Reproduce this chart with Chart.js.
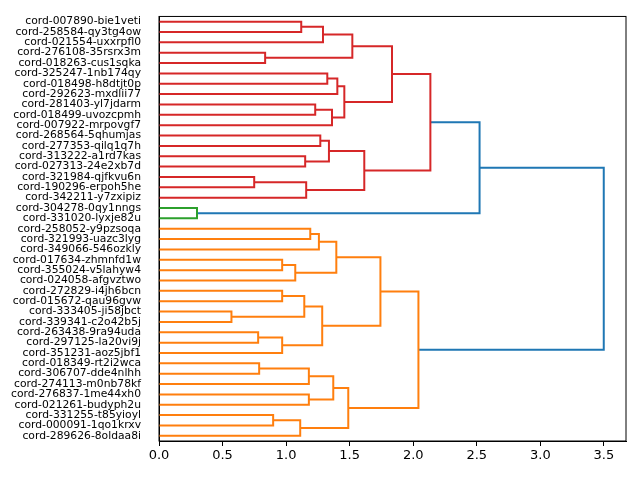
<!DOCTYPE html>
<html lang="en">
<head>
  <meta charset="UTF-8">
  <title>Dendrogram</title>
  <script src="https://cdn.jsdelivr.net/npm/chart.js"></script>
  <style>
    * { box-sizing: border-box; margin: 0; padding: 0; }
    body { background: #fff; }
    .wrap { width: 640px; height: 480px; position: relative; }
  </style>
</head>
<body>
  <div class="wrap"><canvas id="dendro"></canvas></div>
  <script>
    // leaves, top to bottom
    const leafLabels = [
      'cord-007890-bie1veti', 'cord-258584-qy3tg4ow', 'cord-021554-uxxrpfl0', 'cord-276108-35rsrx3m',
      'cord-018263-cus1sqka', 'cord-325247-1nb174qy', 'cord-018498-h8dtjt0p', 'cord-292623-mxdlii77',
      'cord-281403-yl7jdarm', 'cord-018499-uvozcpmh', 'cord-007922-mrpovgf7', 'cord-268564-5qhumjas',
      'cord-277353-qilq1q7h', 'cord-313222-a1rd7kas', 'cord-027313-24e2xb7d', 'cord-321984-qjfkvu6n',
      'cord-190296-erpoh5he', 'cord-342211-y7zxipiz', 'cord-304278-0qy1nngs', 'cord-331020-lyxje82u',
      'cord-258052-y9pzsoqa', 'cord-321993-uazc3lyg', 'cord-349066-546ozkly', 'cord-017634-zhmnfd1w',
      'cord-355024-v5lahyw4', 'cord-024058-afgvztwo', 'cord-272829-i4jh6bcn', 'cord-015672-qau96gvw',
      'cord-333405-ji58jbct', 'cord-339341-c2o42b5j', 'cord-263438-9ra94uda', 'cord-297125-la20vi9j',
      'cord-351231-aoz5jbf1', 'cord-018349-rt2i2wca', 'cord-306707-dde4nlhh', 'cord-274113-m0nb78kf',
      'cord-276837-1me44xh0', 'cord-021261-budyph2u', 'cord-331255-t85yioyl', 'cord-000091-1qo1krxv',
      'cord-289626-8oldaa8i'
    ];

    // merges: ids 0..40 are leaves, merge k gets id 41 + k
    const mergeLeft   = [28, 15, 30, 33, 3, 38, 23, 26, 43, 47, 46, 0, 48, 13, 42, 44, 36, 20, 8, 58, 11, 53, 52, 5, 61, 59, 56, 60, 64, 69, 67, 63, 65, 68, 72, 74, 75, 18, 77, 79];
    const mergeRight  = [29, 16, 31, 34, 4, 39, 24, 27, 32, 25, 40, 1, 41, 14, 17, 35, 37, 21, 9, 22, 12, 49, 2, 6, 54, 10, 57, 50, 7, 66, 51, 45, 55, 62, 70, 71, 73, 19, 78, 76];
    const mergeHeight = [0.570, 0.749, 0.780, 0.788, 0.835, 0.898, 0.969, 0.969, 0.969, 1.072, 1.111, 1.119, 1.143, 1.150, 1.158, 1.179, 1.179, 1.190, 1.229, 1.258, 1.269, 1.284, 1.290, 1.324, 1.337, 1.361, 1.371, 1.395, 1.403, 1.458, 1.489, 1.521, 1.615, 1.742, 1.833, 2.041, 2.135, 0.299, 2.522, 3.499];
    const mergeGroup  = ['o', 'r', 'o', 'o', 'r', 'o', 'o', 'o', 'o', 'o', 'o', 'r', 'o', 'r', 'r', 'o', 'o', 'o', 'r', 'o', 'r', 'o', 'r', 'r', 'r', 'r', 'o', 'o', 'r', 'r', 'o', 'r', 'r', 'o', 'r', 'o', 'r', 'g', 'b', 'b'];
    const xTicks = [0, 0.5, 1.0, 1.5, 2.0, 2.5, 3.0, 3.5];

    const colors = { r: '#d62728', o: '#ff7f0e', g: '#2ca02c', b: '#1f77b4' };

    const pos = leafLabels.map((_, i) => 5 + 10 * i);
    const hgt = leafLabels.map(() => 0);
    const datasets = [];
    mergeHeight.forEach((h, k) => {
      const a = mergeLeft[k], b = mergeRight[k];
      datasets.push({
        data: [
          { x: hgt[a], y: pos[a] }, { x: h, y: pos[a] },
          { x: h, y: pos[b] }, { x: hgt[b], y: pos[b] }
        ],
        borderColor: colors[mergeGroup[k]],
        borderWidth: 2,
        pointRadius: 0,
        showLine: true,
        fill: false,
        tension: 0
      });
      pos.push((pos[a] + pos[b]) / 2);
      hgt.push(h);
    });

    const frame = {
      id: 'frame',
      afterDraw(chart) {
        const { ctx, chartArea: c } = chart;
        ctx.save();
        ctx.strokeStyle = '#000';
        ctx.lineWidth = 1;
        ctx.strokeRect(c.left, c.top, c.right - c.left, c.bottom - c.top);
        ctx.restore();
      }
    };

    new Chart(document.getElementById('dendro'), {
      type: 'scatter',
      data: { datasets },
      plugins: [frame],
      options: {
        responsive: true,
        maintainAspectRatio: false,
        animation: false,
        layout: { padding: { top: 15, right: 14, left: 0, bottom: 0 } },
        plugins: { legend: { display: false }, tooltip: { enabled: false } },
        scales: {
          x: {
            type: 'linear',
            min: 0,
            max: 3.674,
            afterBuildTicks: s => { s.ticks = xTicks.map(v => ({ value: v })); },
            afterFit: s => { s.height = 39; },
            ticks: {
              color: '#000',
              font: { family: 'DejaVu Sans', size: 13 },
              padding: 2,
              maxRotation: 0,
              callback: v => Number(v).toFixed(1)
            },
            grid: { drawOnChartArea: false, color: '#000', tickLength: 5 },
            border: { color: '#000', width: 1 }
          },
          y: {
            type: 'linear',
            min: 0,
            max: 10 * leafLabels.length,
            reverse: true,
            afterBuildTicks: s => { s.ticks = leafLabels.map((_, i) => ({ value: 5 + 10 * i })); },
            afterFit: s => { s.width = 159; },
            ticks: {
              color: '#000',
              autoSkip: false,
              font: { family: 'DejaVu Sans', size: 10.75 },
              padding: 10,
              callback: (v, i) => leafLabels[i]
            },
            grid: { display: false },
            border: { color: '#000', width: 1 }
          }
        }
      }
    });
  </script>
</body>
</html>
